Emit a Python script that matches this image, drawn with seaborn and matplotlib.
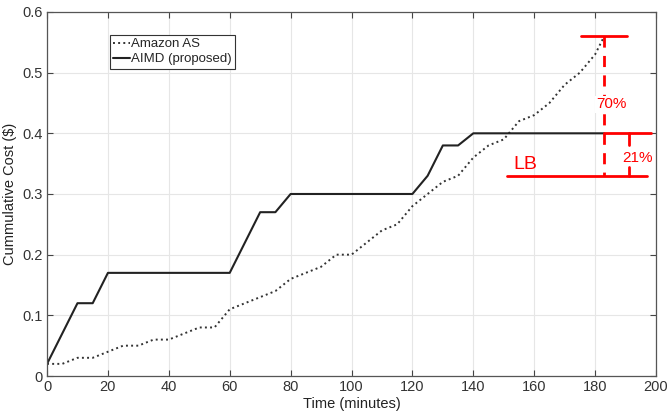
import pandas as pd
import matplotlib
matplotlib.use("Agg")
import matplotlib.pyplot as plt
import seaborn as sns

# data
amazon_t = [0, 5, 10, 15, 20, 25, 30, 35, 40, 45, 50, 55, 60, 65, 70, 75, 80, 85, 90,
            95, 100, 105, 110, 115, 120, 125, 130, 135, 140, 145, 150, 155, 160, 165,
            170, 175, 180, 183]
amazon_cost = [0.02, 0.02, 0.03, 0.03, 0.04, 0.05, 0.05, 0.06, 0.06, 0.07, 0.08, 0.08,
               0.11, 0.12, 0.13, 0.14, 0.16, 0.17, 0.18, 0.20, 0.20, 0.22, 0.24, 0.25,
               0.28, 0.30, 0.32, 0.33, 0.36, 0.38, 0.39, 0.42, 0.43, 0.45, 0.48, 0.50,
               0.53, 0.56]
aimd_t = [0, 10, 15, 20, 60, 70, 75, 80, 120, 125, 130, 135, 140, 183]
aimd_cost = [0.02, 0.12, 0.12, 0.17, 0.17, 0.27, 0.27, 0.30, 0.30, 0.33, 0.38, 0.38,
             0.40, 0.40]

lb_value = 0.33
amazon_final = 0.56
aimd_final = 0.40

sns.set_theme(style="whitegrid")
plt.rcParams["font.family"] = ["Liberation Sans", "DejaVu Sans"]

fig = plt.figure(figsize=(6.67, 4.17), dpi=100)
ax = fig.add_axes([0.0705, 0.0983, 0.913, 0.873])

amazon = pd.DataFrame({"t": amazon_t, "cost": amazon_cost})
aimd = pd.DataFrame({"t": aimd_t, "cost": aimd_cost})
sns.lineplot(data=amazon, x="t", y="cost", ax=ax, color="#333333", linestyle=":",
             linewidth=1.4, label="Amazon AS")
sns.lineplot(data=aimd, x="t", y="cost", ax=ax, color="#222222", linestyle="-",
             linewidth=1.5, label="AIMD (proposed)")

# red annotations
red = "#ff0000"
ax.plot([175.5, 190.5], [amazon_final, amazon_final], color=red, lw=2)
ax.plot([183, 198.5], [aimd_final, aimd_final], color=red, lw=2)
ax.plot([151, 197], [lb_value, lb_value], color=red, lw=2)
ax.plot([183, 183], [amazon_final, lb_value], color=red, lw=2, linestyle=(0, (4, 3)))
ax.plot([191, 191], [aimd_final, 0.38], color=red, lw=2)
ax.plot([191, 191], [0.345, lb_value], color=red, lw=2)
ax.text(185.3, 0.448, "70%", color=red, fontsize=11, ha="center", va="center",
        bbox=dict(facecolor="white", edgecolor="none", pad=1))
ax.text(194, 0.36, "21%", color=red, fontsize=11, ha="center", va="center",
        bbox=dict(facecolor="white", edgecolor="none", pad=1))
ax.text(157, 0.348, "LB", color=red, fontsize=14, ha="center", va="center")

ax.set_xlim(0, 200)
ax.set_ylim(0, 0.6)
ax.set_xticks(range(0, 201, 20))
ax.set_yticks([0, 0.1, 0.2, 0.3, 0.4, 0.5, 0.6])
ax.set_yticklabels(["0", "0.1", "0.2", "0.3", "0.4", "0.5", "0.6"])
ax.set_xlabel("Time (minutes)", fontsize=10.5, color="#222222", labelpad=2)
ax.set_ylabel("Cummulative Cost (\\$)", fontsize=10.5, color="#222222", labelpad=4)
ax.tick_params(direction="in", length=4, width=0.8, colors="#444444",
               labelsize=10.5, top=True, right=True, bottom=True, left=True, pad=3)
ax.tick_params(axis="both", labelcolor="#333333")
ax.grid(True, color="#e6e6e6", linewidth=0.8)
for s in ax.spines.values():
    s.set_visible(True)
    s.set_color("#555555")
    s.set_linewidth(0.9)

leg = ax.legend(loc="upper left", bbox_to_anchor=(0.103, 0.937), fontsize=9.5,
                frameon=True, fancybox=False, edgecolor="#333333", framealpha=1,
                handlelength=1.3, handletextpad=0.05, borderpad=0.25,
                labelspacing=0.2, borderaxespad=0)
leg.get_frame().set_linewidth(0.8)

fig.savefig("out.png", dpi=100)
